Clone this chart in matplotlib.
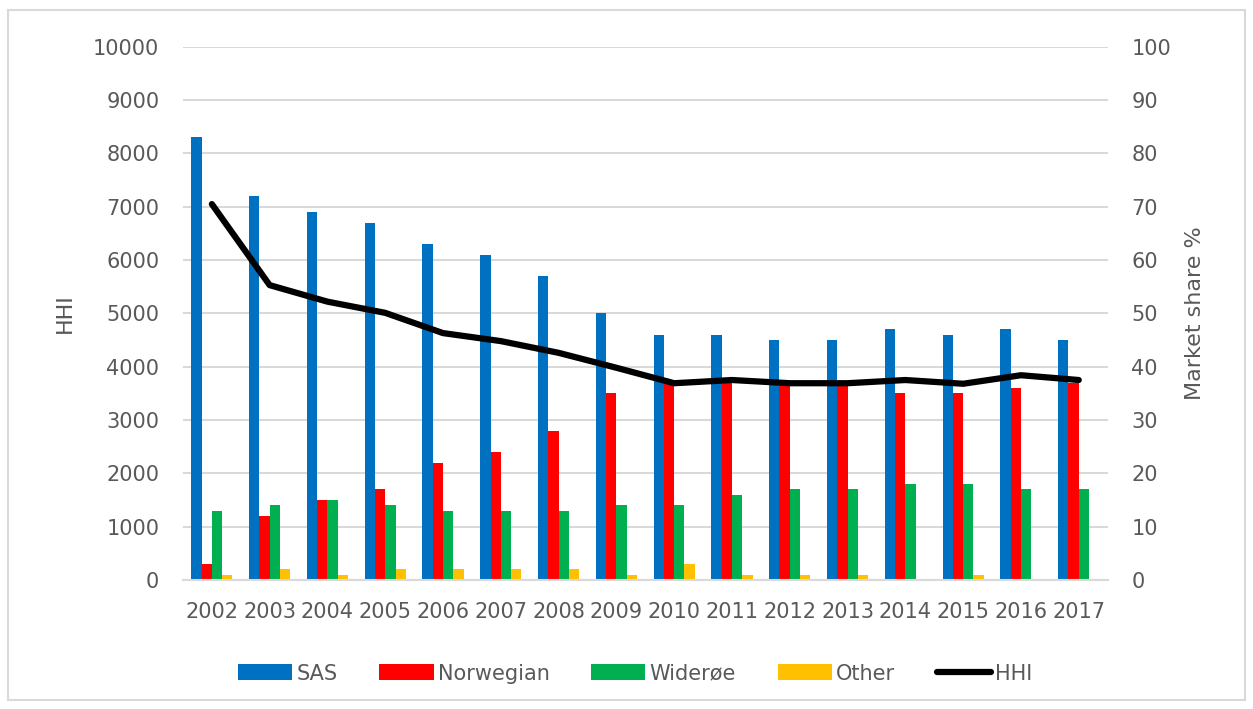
import numpy as np
import matplotlib.pyplot as plt

# ==========================================
# Data
# ==========================================

years = ["2002", "2003", "2004", "2005", "2006", "2007", "2008", "2009",
         "2010", "2011", "2012", "2013", "2014", "2015", "2016", "2017"]

sas = [83, 72, 69, 67, 63, 61, 57, 50, 46, 46, 45, 45, 47, 46, 47, 45]
norwegian = [3, 12, 15, 17, 22, 24, 28, 35, 37, 37, 37, 37, 35, 35, 36, 37]
wideroe = [13, 14, 15, 14, 13, 13, 13, 14, 14, 16, 17, 17, 18, 18, 17, 17]
other = [1, 2, 1, 2, 2, 2, 2, 1, 3, 1, 1, 1, 0, 1, 0, 0]

hhi = [7050, 5530, 5220, 5010, 4630, 4480, 4260, 3980,
       3690, 3750, 3690, 3690, 3750, 3680, 3840, 3750]

series = [
    ("SAS", sas, "#0070C0"),
    ("Norwegian", norwegian, "#FF0000"),
    ("Widerøe", wideroe, "#00B050"),
    ("Other", other, "#FFC000"),
]

TEXT = "#595959"
GRID = "#D9D9D9"

# ==========================================
# Figure
# ==========================================

fig = plt.figure(figsize=(12.53, 7.09), dpi=100)
fig.patches.append(plt.Rectangle((0.006, 0.013), 0.988, 0.973,
                                 transform=fig.transFigure, fill=False,
                                 edgecolor=GRID, linewidth=1.5))

ax = fig.add_axes([0.146, 0.182, 0.738, 0.752])
ax2 = ax.twinx()

x = np.arange(len(years))
width = 0.178

for i, (name, vals, color) in enumerate(series):
    ax.bar(x + (i - 1.5) * width, vals, width, color=color, label=name, zorder=2)

ax2.plot(x, hhi, color="black", linewidth=4.5, solid_capstyle="round", label="HHI")

# market share axis on the right, HHI on the left
ax.set_ylim(0, 100)
ax.set_yticks(np.arange(0, 101, 10))
ax.yaxis.tick_right()
ax.yaxis.set_label_position("right")
ax.set_ylabel("Market share %", fontsize=16, color=TEXT, labelpad=10)

ax2.set_ylim(0, 10000)
ax2.set_yticks(np.arange(0, 10001, 1000))
ax2.yaxis.tick_left()
ax2.yaxis.set_label_position("left")
ax2.set_ylabel("HHI", fontsize=16, color=TEXT, labelpad=13)

ax.set_xlim(-0.5, len(years) - 0.5)
ax.set_xticks(x)
ax.set_xticklabels(years)

ax.grid(axis="y", color=GRID, linewidth=1.5, zorder=0)
ax.set_axisbelow(True)

for a in (ax, ax2):
    for s in a.spines.values():
        s.set_visible(False)
    a.tick_params(length=0, colors=TEXT, labelsize=15)
ax.tick_params(axis="y", pad=17)
ax2.tick_params(axis="y", pad=17)
ax.tick_params(axis="x", pad=16)
ax.spines["bottom"].set_visible(True)
ax.spines["bottom"].set_color(GRID)
ax.spines["bottom"].set_linewidth(1.5)

h1, l1 = ax.get_legend_handles_labels()
h2, l2 = ax2.get_legend_handles_labels()
fig.legend(h1 + h2, l1 + l2, loc="center", bbox_to_anchor=(0.507, 0.05),
           ncol=5, frameon=False, fontsize=15, labelcolor=TEXT,
           handlelength=2.6, handleheight=0.8, handletextpad=0.2,
           columnspacing=2.0)

fig.savefig("out.png", dpi=100)
